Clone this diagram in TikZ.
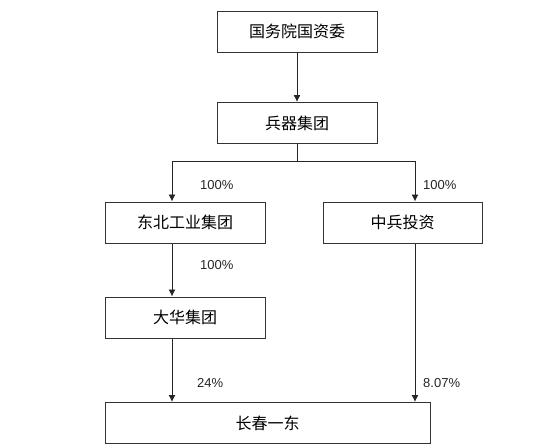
\documentclass[tikz,border=0pt]{standalone}
\usepackage{fontspec}
\setmainfont{Liberation Sans}
\newfontfamily\cjk{Noto Sans CJK SC}
\usetikzlibrary{arrows.meta}

\begin{document}
\begin{tikzpicture}[x=1pt,y=-1pt,
    box/.style={draw=black!80, line width=1pt, minimum height=41pt, inner sep=0pt,
                font=\cjk\fontsize{16}{18}\selectfont},
    arr/.style={line width=0.9pt, draw=black!85, -{Latex[length=7pt,width=7pt]}},
    pct/.style={anchor=west, inner sep=0pt, font=\fontsize{13}{15}\selectfont, text=black!85}]
  \useasboundingbox (0,0) rectangle (557,445);
  \node[box, minimum width=160pt] (gzw) at (297,31.5) {国务院国资委};
  \node[box, minimum width=160pt] (bq) at (297,123) {兵器集团};
  \node[box, minimum width=160pt] (dbgy) at (185,222.5) {东北工业集团};
  \node[box, minimum width=159pt] (zbtz) at (402.5,222.5) {中兵投资};
  \node[box, minimum width=160pt] (dhjt) at (185,317.5) {大华集团};
  \node[box, minimum width=325pt] (ccyd) at (267.5,423) {长春一东};
  \coordinate (fork) at (297,161);
  \coordinate (lft) at (172,161);
  \coordinate (rgt) at (415,161);
  \draw[arr] (gzw) -- (bq);
  \draw[line width=0.9pt, black!85] (bq) -- (fork);
  \draw[line width=0.9pt, black!85] (lft) -- (rgt);
  \draw[arr] (lft) -- (lft |- dbgy.north);
  \draw[arr] (rgt) -- (rgt |- zbtz.north);
  \draw[arr] (lft |- dbgy.south) -- (lft |- dhjt.north);
  \draw[arr] (lft |- dhjt.south) -- (lft |- ccyd.north);
  \draw[arr] (rgt |- zbtz.south) -- (rgt |- ccyd.north);
  \node[pct] (p1) at (200,185) {100\%};
  \node[pct] (p2) at (423,185) {100\%};
  \node[pct] (p3) at (200,265) {100\%};
  \node[pct] (p4) at (197,383) {24\%};
  \node[pct] (p5) at (423,383) {8.07\%};
\end{tikzpicture}
\end{document}
